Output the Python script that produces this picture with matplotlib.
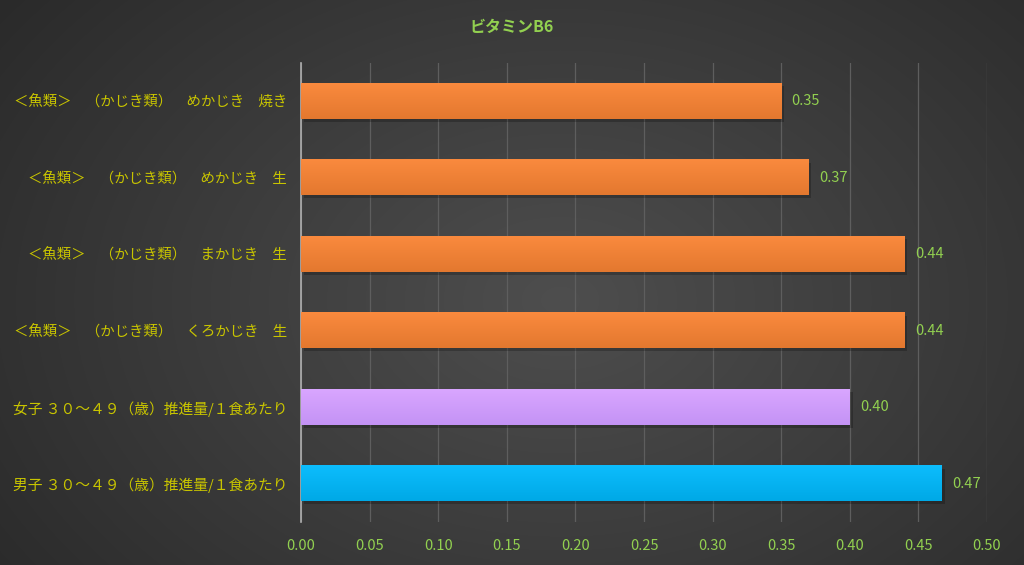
import numpy as np
import matplotlib
matplotlib.use("Agg")
import matplotlib.pyplot as plt
from matplotlib.colors import to_rgb

plt.rcParams['font.family'] = ['Noto Sans CJK JP', 'DejaVu Sans']

categories = [
    "＜魚類＞　（かじき類）　めかじき　焼き",
    "＜魚類＞　（かじき類）　めかじき　生",
    "＜魚類＞　（かじき類）　まかじき　生",
    "＜魚類＞　（かじき類）　くろかじき　生",
    "女子 ３０～４９（歳）推進量/１食あたり",
    "男子 ３０～４９（歳）推進量/１食あたり",
]
values = [0.35, 0.37, 0.44, 0.44, 0.40, 0.467]
labels = ["0.35", "0.37", "0.44", "0.44", "0.40", "0.47"]
bar_colors = ["#ED7D31", "#ED7D31", "#ED7D31", "#ED7D31", "#CC99FF", "#00B0F0"]
xticks = [0.00, 0.05, 0.10, 0.15, 0.20, 0.25, 0.30, 0.35, 0.40, 0.45, 0.50]
title = "ビタミンB6"

fig = plt.figure(figsize=(10.24, 5.65), dpi=100)

# background radial gradient
bg = fig.add_axes([0, 0, 1, 1], zorder=-10)
yy, xx = np.mgrid[0:565, 0:1024]
r = np.sqrt(((xx - 560) / 700.0) ** 2 + ((yy - 300) / 500.0) ** 2)
r = np.clip(r, 0, 1)
c_in = np.array(to_rgb("#4e4e4e"))
c_out = np.array(to_rgb("#2a2a2a"))
img = c_in[None, None, :] * (1 - r[..., None]) + c_out[None, None, :] * r[..., None]
bg.imshow(img, aspect='auto', extent=[0, 1, 0, 1])
bg.axis('off')

ax = fig.add_axes([0.294, 0.0761, 0.9639 - 0.294, 0.8885 - 0.0761])
ax.set_facecolor('none')

y = np.arange(len(categories))
h = 0.46
bars = ax.barh(y, values, height=h, color=bar_colors, zorder=3)

# gradient overlay on each bar
grad = np.linspace(0, 1, 50)[:, None]
for yi, v, col in zip(y, values, bar_colors):
    base = np.array(to_rgb(col))
    top = np.clip(base + 0.05, 0, 1)
    bot = np.clip(base * 0.96, 0, 1)
    g = top[None, None, :] * (1 - grad[..., None]) + bot[None, None, :] * grad[..., None]
    g = np.repeat(g, 2, axis=1)
    ax.imshow(g, aspect='auto', extent=[0, v, yi + h / 2, yi - h / 2], zorder=4)
    # subtle shadow
    ax.barh(yi + 0.035, v, left=0.002, height=h, color='black', alpha=0.22, zorder=2)

for yi, v, lab in zip(y, values, labels):
    ax.text(v + 0.0075, yi, lab, va='center', ha='left', color='#92D050', fontsize=10.5, zorder=5)

ax.set_xlim(0, 0.5)
ax.set_ylim(len(categories) - 0.5, -0.5)
ax.set_xticks(xticks)
ax.set_xticklabels([f"{t:.2f}" for t in xticks])
ax.set_yticks(y)
ax.set_yticklabels(categories)
ax.tick_params(axis='y', length=0, pad=10, labelcolor='#C8C400')
ax.tick_params(axis='x', length=0, pad=12, labelcolor='#92D050', labelsize=10.5)
for i, t in enumerate(ax.get_yticklabels()):
    t.set_fontsize(10.4 if i < 4 else 10.65)
ax.grid(axis='x', color='#5e5e5e', linewidth=0.9, zorder=0)
for s in ['top', 'right', 'bottom']:
    ax.spines[s].set_visible(False)
ax.spines['left'].set_color('#b0b0b0')
ax.spines['left'].set_linewidth(1.2)

fig.text(0.5, 0.952, title, ha='center', va='center', color='#92D050', fontsize=11.5, fontweight='bold')

fig.savefig('out.png', dpi=100)
